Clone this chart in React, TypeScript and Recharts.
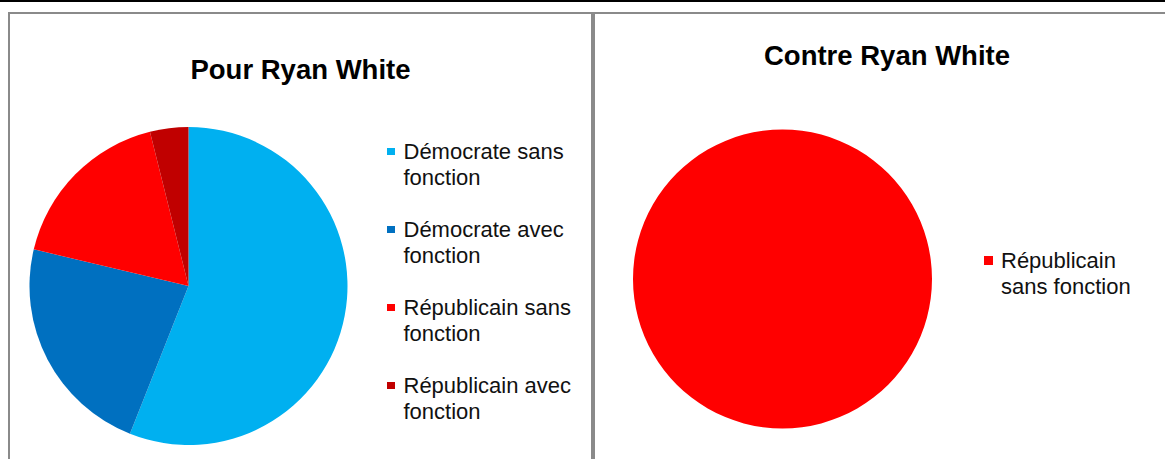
import React from "react";
import { PieChart, Pie, Cell, Legend } from "recharts";

const POUR_NAMES = [
  "Démocrate sans fonction",
  "Démocrate avec fonction",
  "Républicain sans fonction",
  "Républicain avec fonction",
];
const POUR_VALUES = [56.0, 22.7, 17.4, 3.9];
const POUR_COLORS = ["#00B0F0", "#0070C0", "#FF0000", "#C00000"];

const CONTRE_NAMES = ["Républicain sans fonction"];
const CONTRE_VALUES = [100];
const CONTRE_COLORS = ["#FF0000"];

const FONT = "'Liberation Sans', Arial, sans-serif";
const BORDER = "2px solid #8a8a8a";

function LegendList(props: any) {
  const { payload, order, textWidth, square, gap, itemGap } = props;
  // keep the legend in data order (recharts sorts it by default)
  const items = [...(payload || [])].sort(
    (a: any, b: any) => order.indexOf(a.value) - order.indexOf(b.value)
  );
  return (
    <div style={{ fontFamily: FONT, fontSize: 22, lineHeight: "26px", color: "#111" }}>
      {items.map((p: any, i: number) => (
        <div
          key={`leg-${i}`}
          style={{ display: "flex", alignItems: "flex-start", marginBottom: itemGap }}
        >
          <div
            style={{
              width: square,
              height: square,
              background: p.color,
              marginTop: (26 - square) / 2,
              marginRight: gap,
              flexShrink: 0,
            }}
          />
          <div style={{ width: textWidth }}>{p.value}</div>
        </div>
      ))}
    </div>
  );
}

export default function App() {
  const pourData = POUR_NAMES.map((name, i) => ({ name, value: POUR_VALUES[i] }));
  const contreData = CONTRE_NAMES.map((name, i) => ({ name, value: CONTRE_VALUES[i] }));

  return (
    <div
      style={{
        position: "absolute",
        left: 0,
        top: 0,
        width: 1165,
        height: 459,
        overflow: "hidden",
        background: "#fff",
      }}
    >
      <div style={{ position: "absolute", left: 0, top: 0, width: 1165, height: 2, background: "#000" }} />

      {/* left panel */}
      <div
        style={{
          position: "absolute",
          left: 8,
          top: 12,
          width: 581,
          height: 460,
          borderLeft: BORDER,
          borderTop: BORDER,
          borderRight: BORDER,
        }}
      >
        <PieChart width={581} height={445} margin={{ top: 0, right: 0, bottom: 0, left: 0 }}>
          <Pie
            data={pourData}
            dataKey="value"
            nameKey="name"
            cx={178.5}
            cy={272}
            outerRadius={159}
            startAngle={90}
            endAngle={-270}
            stroke="none"
            isAnimationActive={false}
          >
            {pourData.map((_, i) => (
              <Cell key={`pour-${i}`} fill={POUR_COLORS[i]} />
            ))}
          </Pie>
          <Legend
            layout="vertical"
            align="right"
            verticalAlign="top"
            wrapperStyle={{ left: 377, top: 124.5, right: "auto", width: 210 }}
            content={(p: any) => (
              <LegendList
                payload={p.payload}
                order={POUR_NAMES}
                textWidth={185}
                square={7.5}
                gap={9}
                itemGap={26}
              />
            )}
          />
        </PieChart>
        <div
          style={{
            position: "absolute",
            left: 0,
            width: 581,
            top: 42,
            textAlign: "center",
            fontFamily: FONT,
            fontWeight: "bold",
            fontSize: 27.5,
            lineHeight: "27px",
            color: "#000",
          }}
        >
          Pour Ryan White
        </div>
      </div>

      {/* right panel */}
      <div
        style={{
          position: "absolute",
          left: 593,
          top: 12,
          width: 600,
          height: 460,
          borderLeft: BORDER,
          borderTop: BORDER,
        }}
      >
        <PieChart width={570} height={445} margin={{ top: 0, right: 0, bottom: 0, left: 0 }}>
          <Pie
            data={contreData}
            dataKey="value"
            nameKey="name"
            cx={187.5}
            cy={265}
            outerRadius={149.5}
            startAngle={90}
            endAngle={-270}
            stroke="none"
            isAnimationActive={false}
          >
            {contreData.map((_, i) => (
              <Cell key={`contre-${i}`} fill={CONTRE_COLORS[i]} />
            ))}
          </Pie>
          <Legend
            layout="vertical"
            align="right"
            verticalAlign="top"
            wrapperStyle={{ left: 389, top: 233.5, right: "auto", width: 170 }}
            content={(p: any) => (
              <LegendList
                payload={p.payload}
                order={CONTRE_NAMES}
                textWidth={145}
                square={9}
                gap={8}
                itemGap={0}
              />
            )}
          />
        </PieChart>
        <div
          style={{
            position: "absolute",
            left: 169,
            width: 210,
            top: 28,
            textAlign: "center",
            fontFamily: FONT,
            fontWeight: "bold",
            fontSize: 27.5,
            lineHeight: "27px",
            color: "#000",
            whiteSpace: "nowrap",
          }}
        >
          Contre Ryan White
        </div>
      </div>
    </div>
  );
}
